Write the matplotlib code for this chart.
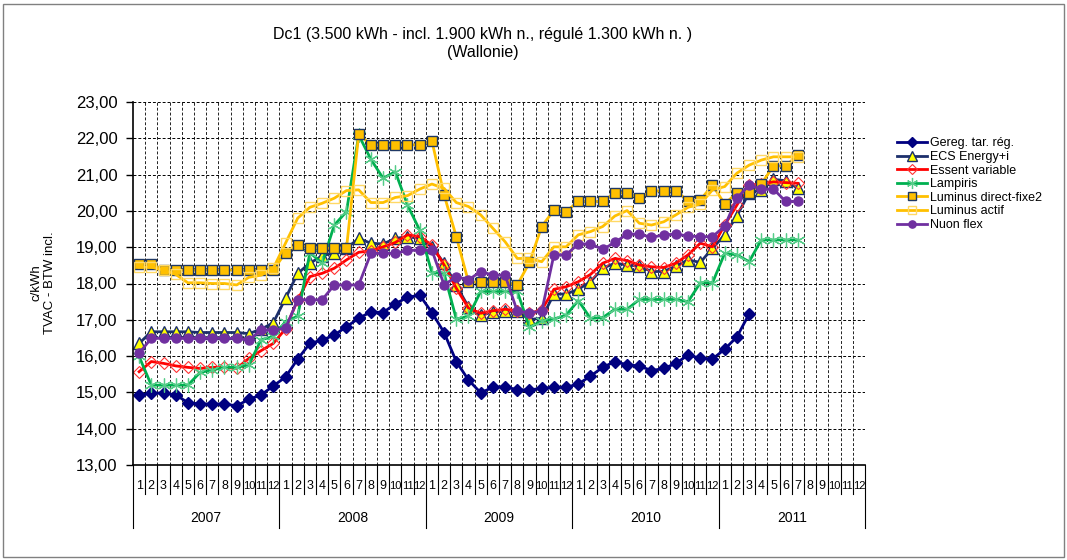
import numpy as np
import matplotlib
matplotlib.use("Agg")
import matplotlib.pyplot as plt
from matplotlib.patches import Rectangle

plt.rcParams['font.family'] = ['Liberation Sans', 'DejaVu Sans']

years = ['2007', '2008', '2009', '2010', '2011']
months = [str(m) for m in range(1, 13)]

gereg = [14.93, 14.97, 14.99, 14.93, 14.72, 14.68, 14.68, 14.68, 14.63, 14.81, 14.93, 15.18,
         15.42, 15.92, 16.35, 16.44, 16.58, 16.81, 17.04, 17.22, 17.20, 17.44, 17.62, 17.68,
         17.20, 16.65, 15.85, 15.34, 14.99, 15.14, 15.16, 15.07, 15.07, 15.11, 15.14, 15.14,
         15.23, 15.45, 15.69, 15.85, 15.76, 15.73, 15.60, 15.66, 15.80, 16.03, 15.94, 15.92,
         16.19, 16.53, 17.16]
ecs = [16.35, 16.67, 16.67, 16.67, 16.67, 16.65, 16.65, 16.65, 16.65, 16.62, 16.74, 16.92,
       17.59, 18.28, 18.56, 18.76, 18.85, 18.97, 19.24, 19.11, 19.09, 19.24, 19.29, 19.24,
       19.01, 18.56, 17.95, 17.35, 17.12, 17.22, 17.23, 17.23, 17.01, 17.04, 17.71, 17.71,
       17.84, 18.05, 18.42, 18.56, 18.51, 18.48, 18.33, 18.33, 18.48, 18.65, 18.58, 18.97,
       19.34, 19.86, 20.50, 20.58, 20.87, 20.83, 20.62]
essent = [15.57, 15.85, 15.80, 15.73, 15.69, 15.66, 15.69, 15.69, 15.66, 15.94, 16.15, 16.35,
          16.75, 17.55, 18.19, 18.28, 18.42, 18.65, 18.86, 18.90, 19.01, 19.13, 19.34, 19.29,
          19.06, 18.51, 17.87, 17.32, 17.18, 17.25, 17.29, 17.25, 17.18, 17.27, 17.84, 17.91,
          18.05, 18.25, 18.56, 18.69, 18.63, 18.51, 18.46, 18.44, 18.56, 18.79, 19.11, 19.01,
          19.61, 20.16, 20.71, 20.74, 20.80, 20.78, 20.76]
lampiris = [15.99, 15.20, 15.20, 15.20, 15.20, 15.55, 15.62, 15.69, 15.69, 15.76, 16.45, 16.54,
            16.95, 17.10, 18.85, 18.56, 19.61, 19.98, 22.09, 21.42, 20.90, 21.08, 20.16, 19.47,
            18.30, 18.28, 17.02, 17.10, 17.78, 17.78, 17.78, 17.78, 16.79, 16.97, 17.02, 17.13,
            17.53, 17.04, 17.06, 17.29, 17.29, 17.56, 17.56, 17.56, 17.56, 17.50, 18.02, 18.02,
            18.83, 18.79, 18.60, 19.20, 19.20, 19.20, 19.20]
lum_fixe = [18.54, 18.54, 18.37, 18.37, 18.37, 18.37, 18.37, 18.37, 18.37, 18.37, 18.37, 18.37,
            18.85, 19.07, 18.99, 18.97, 18.97, 18.97, 22.11, 21.82, 21.82, 21.82, 21.82, 21.82,
            21.93, 20.44, 19.29, 18.04, 18.04, 18.03, 18.03, 17.96, 18.58, 19.57, 20.02, 19.98,
            20.26, 20.26, 20.26, 20.50, 20.50, 20.35, 20.55, 20.55, 20.55, 20.28, 20.30, 20.71,
            20.19, 20.50, 20.50, 20.74, 21.24, 21.24, 21.54]
lum_actif = [18.45, 18.45, 18.37, 18.25, 18.02, 18.02, 18.00, 18.00, 17.96, 18.17, 18.23, 18.42,
             19.11, 19.80, 20.10, 20.21, 20.35, 20.56, 20.58, 20.23, 20.23, 20.37, 20.42, 20.60,
             20.74, 20.62, 20.23, 20.12, 19.89, 19.52, 19.15, 18.69, 18.69, 18.60, 19.01, 19.01,
             19.34, 19.43, 19.57, 19.86, 20.01, 19.66, 19.61, 19.70, 19.89, 20.10, 20.19, 20.58,
             20.67, 21.04, 21.26, 21.40, 21.49, 21.49, 21.49]
nuon = [16.08, 16.49, 16.49, 16.49, 16.49, 16.49, 16.49, 16.49, 16.49, 16.44, 16.72, 16.72,
        16.77, 17.55, 17.55, 17.55, 17.96, 17.96, 17.96, 18.83, 18.83, 18.83, 18.91, 18.92,
        18.92, 17.96, 18.19, 18.10, 18.33, 18.23, 18.23, 17.23, 17.20, 17.23, 18.79, 18.79,
        19.09, 19.09, 18.94, 19.13, 19.36, 19.36, 19.27, 19.34, 19.36, 19.31, 19.29, 19.29,
        19.58, 20.35, 20.71, 20.60, 20.60, 20.26, 20.26]

W, H = 1067, 560
fig = plt.figure(figsize=(W / 100, H / 100), dpi=100)
fig.patches.append(Rectangle((3 / W, 3 / H), 1061 / W, 553 / H, transform=fig.transFigure,
                             fill=False, edgecolor='#808080', lw=1))
ax = fig.add_axes([133 / W, (H - 465) / H, (865 - 133) / W, (465 - 102) / H])

n = len(years) * len(months)

def draw(vals, label, color, **kw):
    ax.plot(np.arange(len(vals)), vals, color=color, lw=2, label=label, **kw)

draw(gereg, 'Gereg. tar. rég.', '#000080', marker='D', ms=6.5, mfc='#000080', mec='#000080')
draw(ecs, 'ECS Energy+i', '#1c2f6b', marker='^', ms=8.5, mfc='#ffff00', mec='#1c2f6b', mew=1)
draw(essent, 'Essent variable', '#ff0000', marker='D', ms=6.5, mfc='none', mec='#ff3333', mew=0.8)
draw(lampiris, 'Lampiris', '#00b050', marker=(6, 2, 0), ms=10, mec='#55cc88', mew=0.9)
draw(lum_fixe, 'Luminus direct-fixe2', '#ffc000', marker='s', ms=7.5, mfc='#ffc000', mec='#1f3864', mew=1)
draw(lum_actif, 'Luminus actif', '#ffc000', marker='s', ms=7.5, mfc='none', mec='#ffd966', mew=1)
draw(nuon, 'Nuon flex', '#7030a0', marker='o', ms=6.5, mfc='#7030a0', mec='#7030a0')

ax.set_xlim(-0.5, n - 0.5)
ax.set_ylim(13, 23)
ax.set_yticks(np.arange(13, 24))
ax.set_yticklabels(['%d,00' % v for v in range(13, 24)], fontsize=12)
ax.tick_params(axis='y', direction='out', length=5, width=1, pad=6)
ax.set_xticks([])
ax.yaxis.grid(True, color='black', ls=(0, (3, 2)), lw=0.7)
for b in np.arange(0.5, n, 1):
    ax.axvline(b, color='#222222', ls=(0, (3, 2)), lw=0.7, zorder=0.5)
ax.set_axisbelow(True)
for s in ['top', 'right']:
    ax.spines[s].set_visible(False)
ax.spines['left'].set_linewidth(1.2)
ax.spines['bottom'].set_linewidth(1.2)

# axe des catégories à deux niveaux
tr = ax.get_xaxis_transform()
for i in range(n):
    lab = months[i % 12]
    ax.text(i, -0.058, lab, transform=tr, ha='center', va='center',
            fontsize=9 if len(lab) == 1 else 8)
for b in np.arange(-0.5, n, 1):
    is_year = (b + 0.5) % 12 == 0
    ax.plot([b, b], [0, -0.174 if is_year else -0.08], transform=tr, color='black',
            lw=0.8, clip_on=False)
for k, y in enumerate(years):
    ax.text(k * 12 + 5.5, -0.146, y, transform=tr, ha='center', va='center', fontsize=10)

fig.text(483 / W, 1 - 35 / H, 'Dc1 (3.500 kWh - incl. 1.900 kWh n., régulé 1.300 kWh n. )',
         ha='center', va='center', fontsize=11.5)
fig.text(483 / W, 1 - 53 / H, '(Wallonie)', ha='center', va='center', fontsize=11.5)
fig.text(36 / W, 1 - 283 / H, 'c/kWh', rotation=90, ha='center', va='center', fontsize=9.5)
fig.text(50 / W, 1 - 283 / H, 'TVAC - BTW incl.', rotation=90, ha='center', va='center', fontsize=9.5)

ax.legend(loc='upper left', bbox_to_anchor=(891 / W, 1 - 131 / H), bbox_transform=fig.transFigure,
          frameon=False, fontsize=9, handlelength=2.4, handletextpad=0.25, labelspacing=0.13,
          borderpad=0, markerscale=0.8)

fig.savefig('out.png', dpi=100)
